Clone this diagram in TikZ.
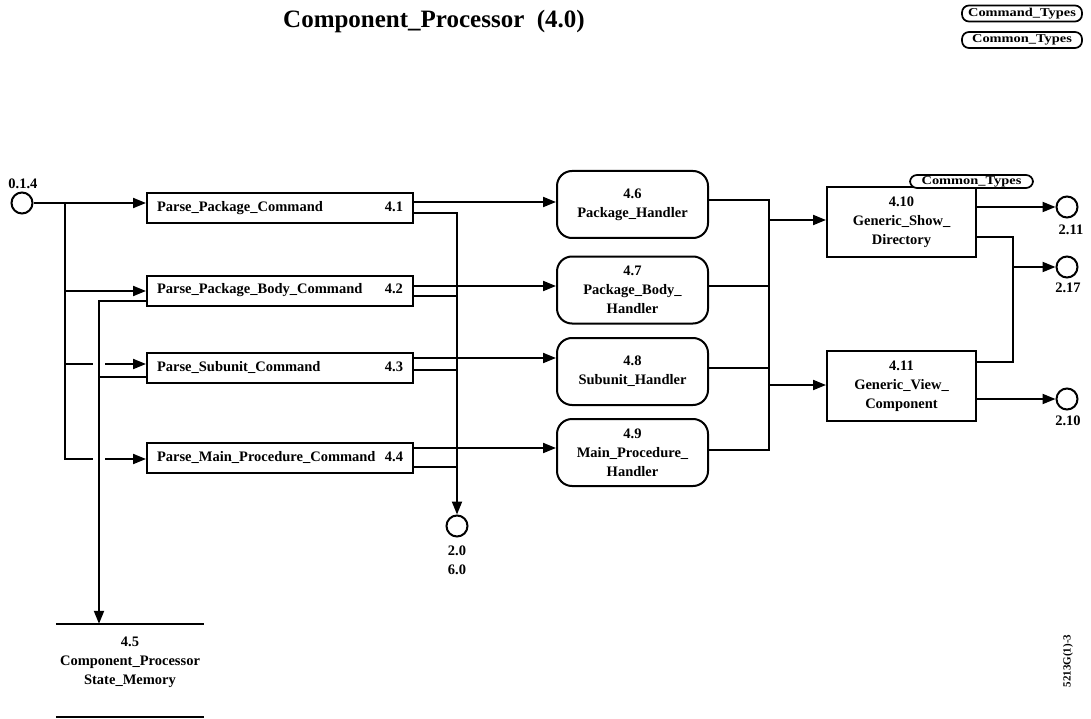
\documentclass[tikz,border=0pt]{standalone}
\usepackage{fontspec}
\setmainfont{Liberation Serif}
\newfontfamily\tagfont[FakeStretch=1.2]{Liberation Serif}
\usetikzlibrary{arrows.meta}
\begin{document}
\begin{tikzpicture}[x=1pt,y=-1pt,
  ln/.style={line width=2pt},
  arr/.style={line width=2pt,-{Triangle[length=13pt,width=10pt]}},
  txt/.style={font=\fontsize{14.5}{19}\selectfont\bfseries,inner sep=0pt,align=center},
  pbox/.style={draw,line width=2pt,text width=246pt,inner xsep=10pt,inner ysep=0pt,minimum height=30pt,font=\fontsize{14.5}{19}\selectfont\bfseries},
  hbox/.style={draw,line width=2pt,rounded corners=15pt,minimum width=151pt,minimum height=67pt,inner sep=0pt,align=center,font=\fontsize{14.5}{19}\selectfont\bfseries},
  gbox/.style={draw,line width=2pt,minimum width=149pt,minimum height=70pt,inner sep=0pt,align=center,font=\fontsize{14.5}{19}\selectfont\bfseries},
  tag/.style={draw,fill=white,line width=1.7pt,rounded corners=7pt,inner sep=0pt,font=\tagfont\fontsize{12}{14}\selectfont\bfseries},
  circ/.style={draw,circle,line width=2pt,minimum size=21pt,inner sep=0pt}]
\useasboundingbox (0,0) rectangle (1091,719);

% title and top tags
\node[font=\fontsize{25}{30}\selectfont\bfseries,anchor=base] (title) at (434,28) {Component\_Processor~~(4.0)};
\node[tag,minimum width=120pt,minimum height=16pt] (tcmd) at (1022,13.5) {Command\_Types};
\node[tag,minimum width=120pt,minimum height=16pt] (tcom) at (1022,40) {Common\_Types};

% input circle
\node[circ] (c014) at (22,203) {};
\node[txt] (l014) at (23,184) {0.1.4};

% parse boxes
\node[pbox] (p1) at (280,208) {Parse\_Package\_Command\hfill 4.1};
\node[pbox] (p2) at (280,290.5) {Parse\_Package\_Body\_Command\hfill 4.2};
\node[pbox] (p3) at (280,367.5) {Parse\_Subunit\_Command\hfill 4.3};
\node[pbox] (p4) at (280,457.5) {Parse\_Main\_Procedure\_Command\hfill 4.4};

% handlers
\node[hbox] (h6) at (632.5,204.5) {4.6\\Package\_Handler};
\node[hbox] (h7) at (632.5,290) {4.7\\Package\_Body\_\\Handler};
\node[hbox] (h8) at (632.5,371.5) {4.8\\Subunit\_Handler};
\node[hbox] (h9) at (632.5,452.5) {4.9\\Main\_Procedure\_\\Handler};

% generic boxes
\node[gbox] (g10) at (901.5,222) {4.10\\Generic\_Show\_\\Directory};
\node[tag,minimum width=123pt,minimum height=13pt] (tg10) at (971.5,181.5) {Common\_Types};
\node[gbox] (g11) at (901.5,386) {4.11\\Generic\_View\_\\Component};

% output circles
\node[circ] (c211) at (1067,207) {};
\node[txt] (l211) at (1071,230) {2.11};
\node[circ] (c217) at (1067,267) {};
\node[txt] (l217) at (1068,288) {2.17};
\node[circ] (c210) at (1067,399) {};
\node[txt] (l210) at (1068,421) {2.10};
\node[circ] (c20) at (457,526) {};
\node[txt] (l20) at (457,560) {2.0\\6.0};

% memory
\node[minimum width=148pt,minimum height=93pt,inner sep=0pt] (mem) at (130,670.5) {};
\draw[ln] (mem.north west) -- (mem.north east);
\draw[ln] (mem.south west) -- (mem.south east);
\node[txt] (memt) at (130,662) {4.5\\Component\_Processor\\State\_Memory};

% rotated code
\node[font=\fontsize{11}{13}\selectfont\bfseries,rotate=90,inner sep=0pt] (code) at (1068,661) {5213G(1)-3};

% input bus
\coordinate (b0) at (65,203);
\coordinate (b4) at (65,459);
\draw[arr] (c014.east) -- (c014.east -| p1.west);
\draw[ln] (b0) -- (b4) -- (93,459);
\draw[arr] (105,459) -- (b4 -| p4.west);
\coordinate (b2) at (65,291);
\draw[arr] (b2) -- (b2 -| p2.west);
\coordinate (b3) at (65,364);
\draw[ln] (b3) -- (93,364);
\draw[arr] (105,364) -- (b3 -| p3.west);

% to memory
\coordinate (mx) at (99,301);
\coordinate (mx3) at (99,377);
\draw[arr] (mx -| p2.west) -- (mx) -- (mx |- mem.north);
\draw[ln] (mx3 -| p3.west) -- (mx3);

% parse -> handlers
\coordinate (o1) at (413,202);
\coordinate (o2) at (413,286);
\coordinate (o3) at (413,358);
\coordinate (o4) at (413,448);
\draw[arr] (o1) -- (o1 -| h6.west);
\draw[arr] (o2) -- (o2 -| h7.west);
\draw[arr] (o3) -- (o3 -| h8.west);
\draw[arr] (o4) -- (o4 -| h9.west);

% parse -> 2.0/6.0
\coordinate (v1) at (457,213);
\draw[arr] (v1 -| p1.east) -- (v1) -- (c20.north);
\coordinate (v2) at (457,296);
\coordinate (v3) at (457,370);
\coordinate (v4) at (457,467);
\draw[ln] (v2 -| p2.east) -- (v2);
\draw[ln] (v3 -| p3.east) -- (v3);
\draw[ln] (v4 -| p4.east) -- (v4);

% handlers -> generic
\coordinate (r6) at (769,200);
\coordinate (r7) at (769,286);
\coordinate (r8) at (769,368);
\coordinate (r9) at (769,450);
\draw[ln] (r6 -| h6.east) -- (r6) -- (r9) -- (r9 -| h9.east);
\draw[ln] (r7 -| h7.east) -- (r7);
\draw[ln] (r8 -| h8.east) -- (r8);
\coordinate (ra) at (769,220);
\coordinate (rb) at (769,385);
\draw[arr] (ra) -- (ra -| g10.west);
\draw[arr] (rb) -- (rb -| g11.west);

% generic -> outputs
\draw[arr] (c211.west -| g10.east) -- (c211.west);
\coordinate (s1) at (1013,237);
\coordinate (s2) at (1013,362);
\coordinate (s3) at (1013,267);
\draw[ln] (s1 -| g10.east) -- (s1) -- (s2) -- (s2 -| g11.east);
\draw[arr] (s3) -- (c217.west);
\draw[arr] (c210.west -| g11.east) -- (c210.west);
\end{tikzpicture}
\end{document}
